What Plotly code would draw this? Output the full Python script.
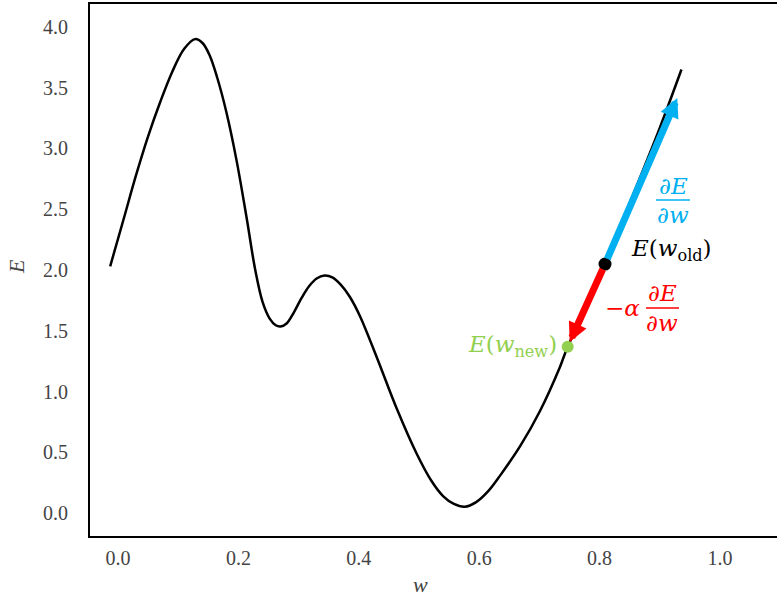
import plotly.graph_objects as go

# ---- data ----
w_curve = [-0.013, 0.010, 0.030, 0.050, 0.070, 0.090, 0.110, 0.128, 0.140, 0.152,
           0.165, 0.180, 0.197, 0.214, 0.228, 0.240, 0.252, 0.262, 0.270, 0.280,
           0.292, 0.305, 0.318, 0.330, 0.343, 0.356, 0.370, 0.385, 0.402, 0.430,
           0.463, 0.496, 0.520, 0.540, 0.558, 0.576, 0.595, 0.615, 0.635, 0.668,
           0.701, 0.734, 0.747, 0.780, 0.809, 0.850, 0.900, 0.936]
E_curve = [2.03, 2.43, 2.78, 3.10, 3.38, 3.63, 3.82, 3.90, 3.87, 3.77,
           3.58, 3.30, 2.90, 2.42, 2.00, 1.74, 1.60, 1.545, 1.535, 1.56,
           1.65, 1.77, 1.87, 1.93, 1.955, 1.94, 1.88, 1.78, 1.62, 1.28,
           0.86, 0.49, 0.27, 0.14, 0.075, 0.052, 0.09, 0.18, 0.31, 0.55,
           0.84, 1.20, 1.369, 1.71, 2.049, 2.55, 3.17, 3.65]

w_old, E_old = 0.809, 2.049            # E(w_old)
w_new, E_new = 0.747, 1.369            # E(w_new)
grad_tip_w, grad_tip_E = 0.929, 3.416  # tip of the gradient arrow

x_ticks = [0.0, 0.2, 0.4, 0.6, 0.8, 1.0]
x_tick_labels = ["0.0", "0.2", "0.4", "0.6", "0.8", "1.0"]
y_ticks = [0.0, 0.5, 1.0, 1.5, 2.0, 2.5, 3.0, 3.5, 4.0]
y_tick_labels = ["0.0", "0.5", "1.0", "1.5", "2.0", "2.5", "3.0", "3.5", "4.0"]

BLUE = "#00B0F0"
RED = "#FF0000"
GREEN = "#92D050"
TICKFONT = dict(family="Liberation Serif", size=20, color="#444")
MATHFONT = "DejaVu Serif"
MS = 23

fig = go.Figure()
fig.add_trace(go.Scatter(x=w_curve, y=E_curve, mode="lines",
                         line=dict(color="black", width=2.5, shape="spline", smoothing=1.0),
                         hoverinfo="skip"))
fig.add_trace(go.Scatter(x=[w_old], y=[E_old], mode="markers",
                         marker=dict(color="black", size=13)))
fig.add_trace(go.Scatter(x=[w_new], y=[E_new], mode="markers",
                         marker=dict(color=GREEN, size=12)))

annotations = [
    # gradient arrow (blue)
    dict(x=grad_tip_w, y=grad_tip_E, ax=w_old, ay=E_old, xref="x", yref="y",
         axref="x", ayref="y", text="", showarrow=True, arrowhead=2,
         arrowsize=0.55, arrowwidth=7, arrowcolor=BLUE, startstandoff=4),
    # step arrow (red)
    dict(x=w_new, y=E_new, ax=w_old, ay=E_old, xref="x", yref="y",
         axref="x", ayref="y", text="", showarrow=True, arrowhead=2,
         arrowsize=0.55, arrowwidth=7, arrowcolor=RED, startstandoff=4, standoff=5),
    # labels
    dict(x=w_old, y=E_old, xref="x", yref="y", text="<i>E</i>(<i>w</i><sub>old</sub>)",
         showarrow=False, xanchor="left", yanchor="middle", xshift=24, yshift=14,
         font=dict(family=MATHFONT, size=MS, color="black")),
    dict(x=w_new, y=E_new, xref="x", yref="y", text="<i>E</i>(<i>w</i><sub>new</sub>)",
         showarrow=False, xanchor="right", yanchor="middle", xshift=-9, yshift=1,
         font=dict(family=MATHFONT, size=MS, color=GREEN)),
    dict(x=w_old, y=E_old, xref="x", yref="y", text="<i>∂E</i>",
         showarrow=False, xanchor="center", yanchor="middle", xshift=68, yshift=78,
         font=dict(family=MATHFONT, size=MS, color=BLUE)),
    dict(x=w_old, y=E_old, xref="x", yref="y", text="<i>∂w</i>",
         showarrow=False, xanchor="center", yanchor="middle", xshift=68, yshift=49,
         font=dict(family=MATHFONT, size=MS, color=BLUE)),
    dict(x=w_old, y=E_old, xref="x", yref="y", text="−<i>α</i>",
         showarrow=False, xanchor="center", yanchor="middle", xshift=17, yshift=-44,
         font=dict(family=MATHFONT, size=MS, color=RED)),
    dict(x=w_old, y=E_old, xref="x", yref="y", text="<i>∂E</i>",
         showarrow=False, xanchor="center", yanchor="middle", xshift=57, yshift=-29,
         font=dict(family=MATHFONT, size=MS, color=RED)),
    dict(x=w_old, y=E_old, xref="x", yref="y", text="<i>∂w</i>",
         showarrow=False, xanchor="center", yanchor="middle", xshift=57, yshift=-59,
         font=dict(family=MATHFONT, size=MS, color=RED)),
    # axis titles
    dict(x=(16 - 90) / 687, y=(536 - 267) / 532, xref="paper", yref="paper",
         text="<i>E</i>", showarrow=False, textangle=-90, xanchor="center", yanchor="middle",
         font=dict(family="Liberation Serif", size=22, color="#444")),
    dict(x=(420 - 90) / 687, y=(536 - 599) / 532, xref="paper", yref="paper",
         text="<i>w</i>", showarrow=False, xanchor="center", yanchor="bottom",
         font=dict(family="Liberation Serif", size=22, color="#444")),
]

shapes = [
    # fraction bars
    dict(type="line", xref="x", yref="y", xsizemode="pixel", ysizemode="pixel",
         xanchor=w_old, yanchor=E_old, x0=51, x1=85, y0=64, y1=64,
         line=dict(color=BLUE, width=1.5)),
    dict(type="line", xref="x", yref="y", xsizemode="pixel", ysizemode="pixel",
         xanchor=w_old, yanchor=E_old, x0=41, x1=74, y0=-44, y1=-44,
         line=dict(color=RED, width=1.5)),
]

fig.update_layout(
    width=777, height=600,
    margin=dict(l=90, r=0, t=4, b=64),
    paper_bgcolor="white", plot_bgcolor="white",
    showlegend=False,
    annotations=annotations,
    shapes=shapes,
    xaxis=dict(range=[-0.0465, 1.0947], tickvals=x_ticks, ticktext=x_tick_labels,
               showgrid=False, zeroline=False, showline=True, linecolor="black",
               linewidth=2, mirror=True, ticks="", tickfont=TICKFONT,
               ticklabelstandoff=3),
    yaxis=dict(range=[-0.189, 4.189], tickvals=y_ticks, ticktext=y_tick_labels,
               showgrid=False, zeroline=False, showline=True, linecolor="black",
               linewidth=2, mirror=False, ticks="", tickfont=TICKFONT,
               ticklabelstandoff=16),
)

fig.write_html("out.html")
